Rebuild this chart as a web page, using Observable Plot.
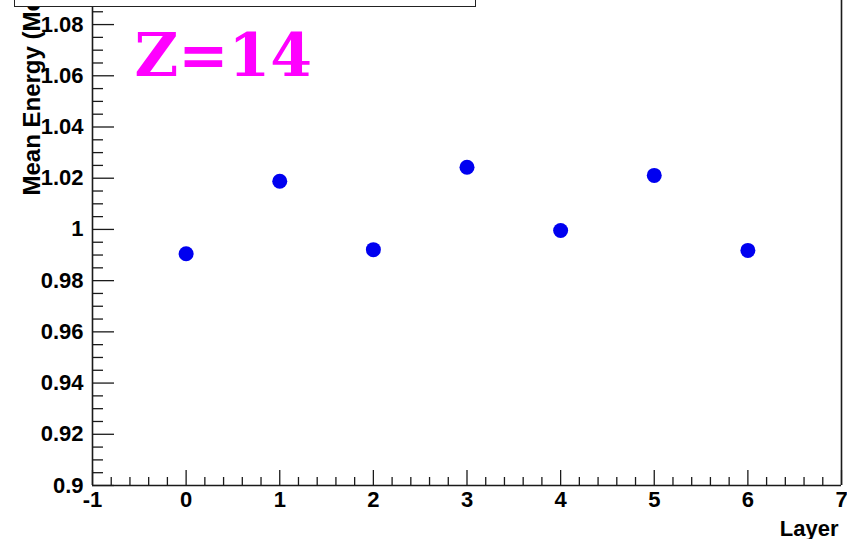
<!DOCTYPE html>
<html>
<head>
<meta charset="utf-8">
<script src="https://cdn.jsdelivr.net/npm/d3@7"></script>
<script src="https://cdn.jsdelivr.net/npm/@observablehq/plot@0.6"></script>
<style>
  html, body { margin: 0; padding: 0; background: #fff; }
  #wrap { position: relative; width: 847px; height: 539px; overflow: hidden; }
  #pave { position: absolute; left: 14px; top: -12px; width: 460px; height: 17px;
          border: 1px solid #222; background: #fff; }
  svg { display: block; }
</style>
</head>
<body>
<div id="wrap"><div id="chart"></div><div id="pave"></div></div>
<script>
// Mean deposited energy per calorimeter layer, Z=14
const layers = [0, 1, 2, 3, 4, 5, 6];
const meanEnergy = [0.9905, 1.0188, 0.9921, 1.0243, 0.9996, 1.0211, 0.9918];

// Axis ticks
const xMajor = [-1, 0, 1, 2, 3, 4, 5, 6, 7];
const xMinor = d3.range(-1, 7.0001, 0.2).filter(v => Math.abs(v - Math.round(v)) > 1e-6);
const yMajor = [0.9, 0.92, 0.94, 0.96, 0.98, 1.0, 1.02, 1.04, 1.06, 1.08];
const yMinor = d3.range(0.9, 1.0894, 0.005).filter(v => Math.abs(v * 50 - Math.round(v * 50)) > 1e-6);

const xTitle = "Layer";
const yTitle = "Mean Energy (MeV)";
const tag = "Z=14";

const data = layers.map((l, i) => ({layer: l, energy: meanEnergy[i]}));

const font = "Liberation Sans, Arial, Helvetica, sans-serif";
const ink = "#1a1a1a";

const chart = Plot.plot({
  width: 847,
  height: 539,
  marginLeft: 92,
  marginRight: 6,
  marginTop: 0,
  marginBottom: 54,
  style: {fontFamily: font, fontWeight: "bold", fontSize: "22px", color: "#000", background: "#fff"},
  x: {domain: [-1, 7]},
  y: {domain: [0.9, 1.0894]},
  marks: [
    // tick labels
    Plot.axisY({ticks: yMajor, tickSize: 0, tickPadding: 9, label: null,
      tickFormat: d => String(+d.toFixed(2)), fill: "#000", fontSize: 22}),
    Plot.axisX({ticks: xMajor, tickSize: 0, tickPadding: 6, label: null,
      tickFormat: d => String(d), fill: "#000", fontSize: 22}),
    // inward tick marks
    Plot.axisY({ticks: yMajor, tickSize: -22, tickFormat: () => "", label: null, stroke: ink, strokeWidth: 1.3}),
    Plot.axisY({ticks: yMinor, tickSize: -11, tickFormat: () => "", label: null, stroke: ink, strokeWidth: 1.3}),
    Plot.axisX({ticks: xMajor, tickSize: -15, tickFormat: () => "", label: null, stroke: ink, strokeWidth: 1.3}),
    Plot.axisX({ticks: xMinor, tickSize: -8, tickFormat: () => "", label: null, stroke: ink, strokeWidth: 1.3}),
    // frame lines
    Plot.ruleX([-1], {stroke: ink, strokeWidth: 1.6}),
    Plot.ruleX([7], {stroke: ink, strokeWidth: 1.6}),
    Plot.ruleY([0.9], {stroke: ink, strokeWidth: 1.6}),
    // axis titles
    Plot.text([yTitle], {frameAnchor: "bottom-left", dx: -60, dy: -290, rotate: -90,
      textAnchor: "start", lineAnchor: "middle", fontSize: 24, fontWeight: "bold", fill: "#000"}),
    Plot.text([xTitle], {frameAnchor: "bottom-right", dx: -3, dy: 50,
      textAnchor: "end", lineAnchor: "bottom", fontSize: 22, fontWeight: "bold", fill: "#000"}),
    // label
    Plot.text([tag], {frameAnchor: "top-left", dx: 42, dy: 75, textAnchor: "start", lineAnchor: "bottom",
      fontFamily: "DejaVu Serif, serif", fontWeight: "bold", fontSize: 60, fill: "#ff00ff"}),
    // data points
    Plot.dot(data, {x: "layer", y: "energy", r: 7.5, fill: "#0000f0", stroke: null})
  ]
});
document.getElementById("chart").appendChild(chart);
</script>
</body>
</html>
